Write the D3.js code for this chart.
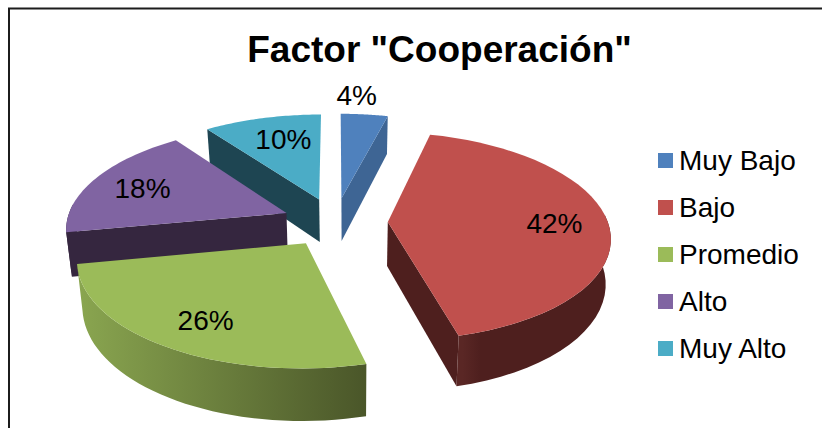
<!DOCTYPE html>
<html><head><meta charset="utf-8">
<script src="https://cdn.jsdelivr.net/npm/d3@7"></script>
<style>html,body{margin:0;padding:0;background:#fff}svg{display:block}text{font-family:"Liberation Sans",Arial,sans-serif;fill:#000}</style>
</head><body><svg id="c" width="822" height="428"></svg>
<script>
const categories = ["Muy Bajo","Bajo","Promedio","Alto","Muy Alto"];
const values = [4,42,26,18,10];
const topColors = ["#4f81bd","#c0504d","#9bbb59","#8064a2","#4bacc6"];
const sideColors = ["#3e6594","#4e1f1e","#35263f","#35263f","#1e4552"];
const title = 'Factor "Cooperación"';

const svg = d3.select("#c");
const cx=335, cy=222, rx=220, ry=102, persp=0.135, explode=0.24, depth=44, taper=0.98, taperX=350;
const labelFrac = [1.12,0.78,0.62,0.72,0.62];
const labelDx = [-10,-5,-17,-5,1], labelDy = [-11,1,16,0,-8];
const wallStops = [
  [[0,"#3e6594"],[1,"#3e6594"]],
  [[0,"#5a2725"],[0.18,"#5a2725"],[0.28,"#4e1f1e"],[1,"#4e1f1e"]],
  [[0,"#8aa650"],[1,"#4a5629"]],
  [[0,"#35263f"],[1,"#35263f"]],
  [[0,"#1e4552"],[1,"#1e4552"]]
];

svg.append("path").attr("d","M9,428V8.5H822").attr("fill","none").attr("stroke","#1c1c1c").attr("stroke-width",2);
svg.append("text").text(title).attr("x",439.5).attr("y",62).attr("text-anchor","middle")
  .attr("font-size",37).attr("font-weight","bold");

const arcs = d3.pie().value(d=>d).sort(null)(values);
const project=(u,v,drop)=>{
  const s=1/(1-persp*v), x=cx+rx*u*s, y=cy+ry*v*s;
  return drop ? [taperX+(x-taperX)*taper, y+depth*s] : [x,y];
};
const sliceGeo = arcs.map((a,i)=>{
  const m=(a.startAngle+a.endAngle)/2;
  const ou=explode*Math.sin(m), ov=-explode*Math.cos(m);
  const pt=(t,r,drop)=>project(ou+r*Math.sin(t),ov-r*Math.cos(t),drop);
  const ang=d3.range(0,41).map(k=>a.startAngle+(a.endAngle-a.startAngle)*k/40);
  return {a,i,m,ov,pt,ang};
});
const line=d3.line();
const defs=svg.append("defs");
sliceGeo.slice().sort((p,q)=>p.ov-q.ov).forEach(g=>{
  const {i,pt,ang,a,m}=g;
  const G=svg.append("g");
  const apexT=pt(0,0,false), apexB=pt(0,0,true), mid=pt(m,0.5,false);
  [a.startAngle,a.endAngle].forEach(t=>{
    const c=pt(t,1,false);
    const ex=c[0]-apexT[0], ey=c[1]-apexT[1], len=Math.hypot(ex,ey);
    const inner=ex*(mid[1]-apexT[1])-ey*(mid[0]-apexT[0]);
    const dropSide=ex/len;
    if(Math.abs(dropSide)>0.1 && inner*dropSide<0)
      G.append("path").attr("d",line([apexT,c,pt(t,1,true),apexB])+"Z").attr("fill",sideColors[i]);
  });
  const top=ang.map(t=>pt(t,1,false));
  const near=ang.filter(t=>Math.cos(t)<0.1);
  const xs=top.map(p=>p[0]);
  const gr=defs.append("linearGradient").attr("id","w"+i).attr("gradientUnits","userSpaceOnUse")
    .attr("x1",d3.min(xs)).attr("x2",d3.max(xs)).attr("y1",0).attr("y2",0);
  wallStops[i].forEach(s=>gr.append("stop").attr("offset",s[0]).attr("stop-color",s[1]));
  if(near.length>1){
    const nt=near.map(t=>pt(t,1,false)), nb=near.map(t=>pt(t,1,true)).reverse();
    G.append("path").attr("d",line(nt.concat(nb))+"Z").attr("fill",`url(#w${i})`);
  }
  G.append("path").attr("d",line([apexT].concat(top))+"Z").attr("fill",topColors[i]);
});
sliceGeo.forEach(g=>{
  const i=g.i, [x,y]=g.pt(g.m,labelFrac[i],false);
  svg.append("text").text(values[i]+"%").attr("x",x+labelDx[i]).attr("y",y+10+labelDy[i]).attr("text-anchor","middle").attr("font-size",28);
});
const legendY=d3.scalePoint().domain(categories).range([160.5,348.5]);
categories.forEach((c,i)=>{
  svg.append("rect").attr("x",658).attr("y",legendY(c)-7.5).attr("width",15).attr("height",15).attr("fill",topColors[i]);
  svg.append("text").text(c).attr("x",679).attr("y",legendY(c)+9).attr("font-size",28);
});
</script></body></html>
